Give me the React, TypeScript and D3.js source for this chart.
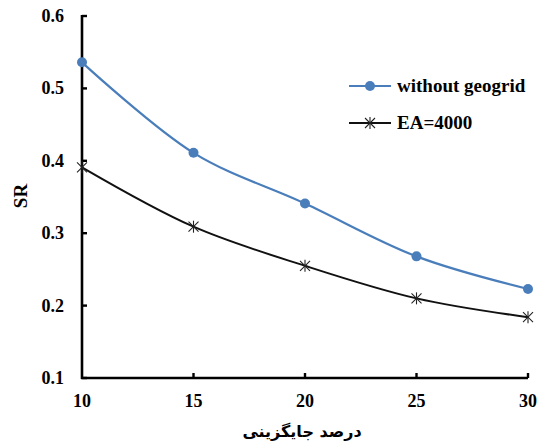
import React, { useEffect } from 'react';
import * as d3 from 'd3';

const xValues = [10, 15, 20, 25, 30];
const withoutGeogrid = [0.536, 0.411, 0.341, 0.268, 0.223];
const ea4000 = [0.391, 0.309, 0.255, 0.21, 0.184];
const yTicks = [0.1, 0.2, 0.3, 0.4, 0.5, 0.6];
const seriesNames = ['without geogrid', 'EA=4000'];

const WIDTH = 539;
const HEIGHT = 446;
const BLUE = '#4a7ebb';
const SERIF = "'Liberation Serif', 'Times New Roman', serif";

function Star({ cx, cy }: { cx: number; cy: number }) {
  const s = 5;
  return (
    <g stroke="#222" strokeWidth={1.1}>
      <line x1={cx - s} x2={cx + s} y1={cy - s} y2={cy + s} />
      <line x1={cx - s} x2={cx + s} y1={cy + s} y2={cy - s} />
      <line x1={cx} x2={cx} y1={cy - s - 1} y2={cy + s + 1} />
    </g>
  );
}

export default function App() {
  useEffect(() => {
    document.body.style.margin = '0';
  }, []);

  const x = d3.scaleLinear().domain([10, 30]).range([82, 528]);
  const y = d3.scaleLinear().domain([0.1, 0.6]).range([378, 16]);

  const line = d3.line<number>()
    .x((_, i) => x(xValues[i]))
    .y(d => y(d))
    .curve(d3.curveCatmullRom.alpha(0.5));

  const ly = [86, 123];

  return (
    <svg width={WIDTH} height={HEIGHT} style={{ display: 'block', background: '#fff' }}>
      <g fontFamily={SERIF} fontWeight="bold" fontSize={18} fill="#000">
        {yTicks.map(t => (
          <g key={t}>
            <line x1={x(10)} x2={x(10) + 5} y1={y(t)} y2={y(t)} stroke="#000" strokeWidth={2.4} />
            <text x={64} y={y(t) + 6} textAnchor="end">{t.toFixed(1)}</text>
          </g>
        ))}
        {xValues.map(v => (
          <g key={v}>
            {v !== 10 && (
              <line x1={x(v)} x2={x(v)} y1={y(0.1)} y2={y(0.1) - 5} stroke="#000" strokeWidth={2.4} />
            )}
            <text x={x(v)} y={407} textAnchor="middle">{v}</text>
          </g>
        ))}
        <line x1={x(10)} x2={x(10)} y1={y(0.6) - 1} y2={y(0.1) + 1} stroke="#000" strokeWidth={2.6} />
        <line x1={x(10) - 1} x2={x(30)} y1={y(0.1)} y2={y(0.1)} stroke="#000" strokeWidth={2.6} />
        <text transform="translate(27,196) rotate(-90)" textAnchor="middle" fontSize={19}>SR</text>
      </g>
      <text x={302} y={437} textAnchor="middle" direction="rtl"
        fontFamily="'DejaVu Sans', sans-serif" fontWeight="bold" fontSize={16}>درصد جایگزینی</text>

      <path d={line(withoutGeogrid) ?? ''} fill="none" stroke={BLUE} strokeWidth={2.2} />
      <path d={line(ea4000) ?? ''} fill="none" stroke="#111" strokeWidth={2} />
      {withoutGeogrid.map((v, i) => (
        <circle key={i} cx={x(xValues[i])} cy={y(v)} r={5} fill={BLUE} />
      ))}
      {ea4000.map((v, i) => (
        <Star key={i} cx={x(xValues[i])} cy={y(v)} />
      ))}

      <line x1={349} x2={391} y1={ly[0]} y2={ly[0]} stroke={BLUE} strokeWidth={2.2} />
      <circle cx={370} cy={ly[0]} r={5} fill={BLUE} />
      <line x1={349} x2={391} y1={ly[1]} y2={ly[1]} stroke="#111" strokeWidth={2} />
      <Star cx={370} cy={ly[1]} />
      {seriesNames.map((name, i) => (
        <text key={name} x={397} y={ly[i] + 6} fontFamily={SERIF} fontWeight="bold" fontSize={19}>
          {name}
        </text>
      ))}
    </svg>
  );
}
